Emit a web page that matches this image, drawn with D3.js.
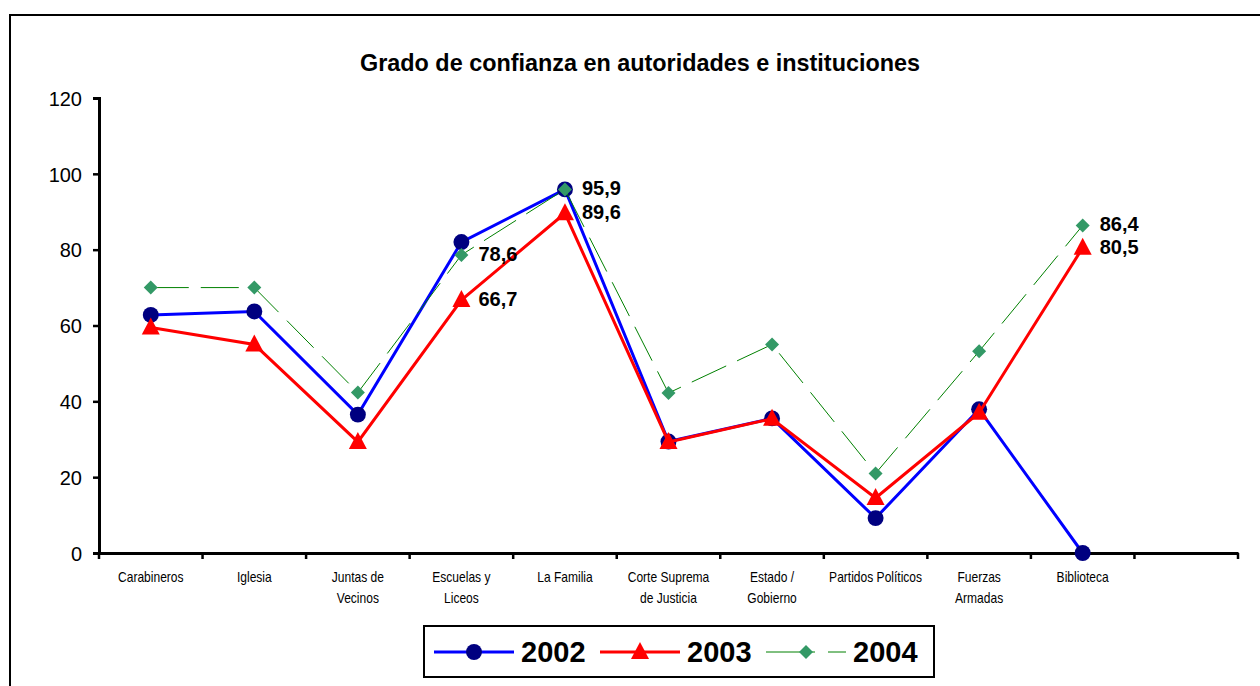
<!DOCTYPE html>
<html>
<head>
<meta charset="utf-8">
<script src="https://cdn.jsdelivr.net/npm/d3@7"></script>
<style>
    body { margin: 0; background: #fff; }
    svg { display: block; font-family: "Liberation Sans", Arial, sans-serif; }
</style>
</head>
<body>
<svg id="chart"></svg>
<script>
// Categories (the last one is an empty slot on the axis)
const categories = [
    ["Carabineros"], ["Iglesia"], ["Juntas de", "Vecinos"], ["Escuelas y", "Liceos"],
    ["La Familia"], ["Corte Suprema", "de Justicia"], ["Estado /", "Gobierno"],
    ["Partidos Políticos"], ["Fuerzas", "Armadas"], ["Biblioteca"], [""]
];
const years = ["2002", "2003", "2004"];
const values2002 = [62.8, 63.7, 36.5, 82.0, 95.9, 29.4, 35.5, 9.2, 37.9, 0];
const values2003 = [59.5, 55.0, 29.3, 66.7, 89.6, 29.3, 35.4, 14.5, 37.0, 80.5];
const values2004 = [70.0, 70.0, 42.3, 78.6, 95.9, 42.2, 55.0, 21.0, 53.2, 86.4];
const yTicks = [0, 20, 40, 60, 80, 100, 120];
// [series index, category index, text]
const valueLabels = [
    [0, 4, "95,9"], [1, 4, "89,6"], [2, 3, "78,6"],
    [1, 3, "66,7"], [2, 9, "86,4"], [1, 9, "80,5"]
];

class LineChart {
    constructor(_config) {
        this.config = {
            parentElement: _config.parentElement,
            containerWidth: 1260,
            containerHeight: 686,
            margin: { top: 98, right: 22, bottom: 133, left: 99 }
        };
        this.series = [
            { name: years[0], values: values2002, line: "#0000ff", width: 3, dash: null, marker: "circle", fill: "#000080" },
            { name: years[1], values: values2003, line: "#ff0000", width: 3, dash: null, marker: "triangle", fill: "#ff0000" },
            { name: years[2], values: values2004, line: "#008000", width: 1, dash: "38,12", marker: "diamond", fill: "#339966" }
        ];
        this.initVis();
    }

    initVis() {
        let vis = this;
        vis.width = vis.config.containerWidth - vis.config.margin.left - vis.config.margin.right;
        vis.height = vis.config.containerHeight - vis.config.margin.top - vis.config.margin.bottom;

        vis.svg = d3.select(vis.config.parentElement)
            .attr("width", vis.config.containerWidth)
            .attr("height", vis.config.containerHeight);

        // outer frame (runs off the right and bottom edges)
        vis.svg.append("rect")
            .attr("x", 10).attr("y", 15)
            .attr("width", 1270).attr("height", 700)
            .attr("fill", "none").attr("stroke", "#000").attr("stroke-width", 2);

        vis.chart = vis.svg.append("g")
            .attr("transform", `translate(${vis.config.margin.left},${vis.config.margin.top})`);

        vis.xScale = d3.scaleBand()
            .domain(d3.range(categories.length))
            .range([0, vis.width]);

        vis.yScale = d3.scaleLinear()
            .domain([0, 120])
            .range([vis.height, 0]);

        // narrow-looking bold title
        vis.svg.append("text")
            .attr("x", 640).attr("y", 71)
            .attr("text-anchor", "middle")
            .attr("textLength", 560)
            .attr("lengthAdjust", "spacingAndGlyphs")
            .style("font-size", "24px")
            .style("font-weight", "bold")
            .text("Grado de confianza en autoridades e instituciones");

        vis.renderAxes();
        vis.updateVis();
        vis.renderLegend();
    }

    renderAxes() {
        let vis = this;

        const yAxis = d3.axisLeft(vis.yScale)
            .tickValues(yTicks)
            .tickSize(6)
            .tickPadding(11)
            .tickFormat(d3.format("d"));
        const yg = vis.chart.append("g").call(yAxis);
        yg.selectAll("text").style("font-size", "20px").attr("dy", "0.36em");

        const xAxis = d3.axisBottom(vis.xScale).tickSize(0).tickFormat("");
        const xg = vis.chart.append("g")
            .attr("transform", `translate(0,${vis.height})`)
            .call(xAxis);

        // ticks sit on the band boundaries
        xg.selectAll(".boundary")
            .data(d3.range(categories.length + 1))
            .join("line")
            .attr("class", "boundary")
            .attr("x1", i => i * vis.xScale.step())
            .attr("x2", i => i * vis.xScale.step())
            .attr("y1", 0).attr("y2", 6)
            .attr("stroke", "#000");

        vis.chart.selectAll(".domain").attr("stroke-width", 3);
        vis.chart.selectAll(".tick line, .boundary").attr("stroke-width", 2.5);

        const labels = xg.selectAll(".cat")
            .data(categories)
            .join("text")
            .attr("class", "cat")
            .attr("text-anchor", "middle")
            .attr("transform", (d, i) => `translate(${vis.xScale(i) + vis.xScale.bandwidth() / 2},29) scale(0.86,1)`)
            .style("font-size", "14px")
            .style("fill", "#000");
        labels.selectAll("tspan")
            .data(d => d)
            .join("tspan")
            .attr("x", 0)
            .attr("dy", (d, j) => j === 0 ? 0 : 21)
            .text(d => d);
    }

    updateVis() {
        let vis = this;
        const cx = i => vis.xScale(i) + vis.xScale.bandwidth() / 2;

        const line = d3.line()
            .x((d, i) => cx(i))
            .y(d => vis.yScale(d));

        const groups = vis.chart.selectAll(".series")
            .data(vis.series)
            .join("g")
            .attr("class", "series");

        groups.append("path")
            .attr("d", d => line(d.values))
            .attr("fill", "none")
            .attr("stroke", d => d.line)
            .attr("stroke-width", d => d.width)
            .attr("stroke-dasharray", d => d.dash);

        groups.selectAll(".marker")
            .data(d => d.values.map((v, i) => ({ v, i, s: d })))
            .join("path")
            .attr("class", "marker")
            .attr("transform", d => `translate(${cx(d.i)},${vis.yScale(d.v)})`)
            .attr("d", d => vis.markerPath(d.s.marker))
            .attr("fill", d => d.s.fill);

        vis.chart.selectAll(".value-label")
            .data(valueLabels)
            .join("text")
            .attr("class", "value-label")
            .attr("x", d => cx(d[1]) + 17)
            .attr("y", d => vis.yScale(vis.series[d[0]].values[d[1]]))
            .attr("dy", "0.3em")
            .style("font-size", "20px")
            .style("font-weight", "bold")
            .text(d => d[2]);
    }

    markerPath(type) {
        if (type === "circle") return d3.symbol(d3.symbolCircle, 200)();
        if (type === "triangle") return "M0,-10L9,7L-9,7Z";
        return "M0,-7L7,0L0,7L-7,0Z";
    }

    renderLegend() {
        let vis = this;
        const lg = vis.svg.append("g").attr("transform", "translate(424,626)");
        lg.append("rect")
            .attr("width", 510).attr("height", 51)
            .attr("fill", "#fff").attr("stroke", "#000").attr("stroke-width", 2);

        const items = lg.selectAll(".item")
            .data(vis.series)
            .join("g")
            .attr("class", "item")
            .attr("transform", (d, i) => `translate(${10 + i * 166},26)`);

        items.append("line")
            .attr("x1", 0).attr("x2", 80)
            .attr("stroke", d => d.line)
            .attr("stroke-width", d => d.width)
            .attr("stroke-dasharray", d => d.dash ? "49,13" : null);
        items.append("path")
            .attr("transform", "translate(40,0)")
            .attr("d", d => vis.markerPath(d.marker))
            .attr("fill", d => d.fill);
        items.append("text")
            .attr("x", 87)
            .attr("dy", "0.36em")
            .style("font-size", "29px")
            .style("font-weight", "bold")
            .text(d => d.name);
    }
}

new LineChart({ parentElement: "#chart" });
</script>
</body>
</html>
